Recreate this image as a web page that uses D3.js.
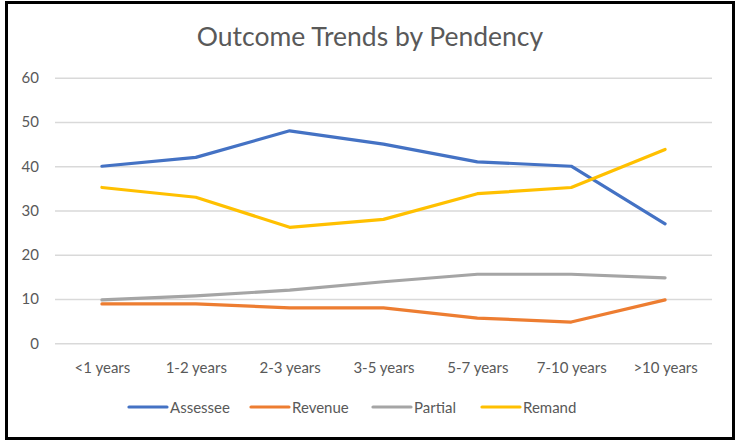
<!DOCTYPE html>
<html><head><meta charset="utf-8">
<script src="https://cdn.jsdelivr.net/npm/d3@7"></script>
<style>body{margin:0;background:#fff}svg{display:block}text{font-family:Lato,"Open Sans",sans-serif}</style>
</head><body>
<svg id="c" width="736" height="441"></svg>
<script>
const categories = ["<1 years","1-2 years","2-3 years","3-5 years","5-7 years","7-10 years",">10 years"];
const assessee = [40, 42, 48, 45, 41, 40, 27];
const revenue  = [8.9, 8.9, 8, 8, 5.7, 4.8, 9.8];
const partial  = [9.8, 10.7, 12, 13.9, 15.6, 15.6, 14.8];
const remand   = [35.2, 33, 26.2, 28, 33.8, 35.2, 43.8];
const seriesNames = ["Assessee","Revenue","Partial","Remand"];
const colors = ["#4472C4","#ED7D31","#A5A5A5","#FFC000"];
const yTicks = [0,10,20,30,40,50,60];

const series = [assessee, revenue, partial, remand];
const svg = d3.select("#c");

svg.append("rect").attr("x",6.5).attr("y",2.5).attr("width",727).attr("height",436)
  .attr("fill","#fff").attr("stroke","#000").attr("stroke-width",3);

svg.append("text").attr("x",370).attr("y",46).attr("text-anchor","middle")
  .attr("font-size",26.5).attr("fill","#595959").text("Outcome Trends by Pendency");

const x = d3.scalePoint().domain(categories).range([55,712]).padding(0.5);
const y = d3.scaleLinear().domain([0,60]).range([343.3,77.7]);

const yAxis = svg.append("g").attr("transform","translate(55,0)")
  .call(d3.axisLeft(y).tickValues(yTicks).tickSize(-657).tickPadding(16));
yAxis.select(".domain").remove();
yAxis.selectAll(".tick line").attr("stroke","#d9d9d9").attr("stroke-width",1.5);
yAxis.selectAll(".tick text").attr("fill","#595959").attr("font-size",15)
  .attr("font-family","Lato,'Open Sans',sans-serif");

const xAxis = svg.append("g").attr("transform","translate(0,343.3)")
  .call(d3.axisBottom(x).tickSize(0).tickPadding(19));
xAxis.select(".domain").remove();
xAxis.selectAll(".tick text").attr("fill","#595959").attr("font-size",15)
  .attr("font-family","Lato,'Open Sans',sans-serif");

const line = d3.line().x((d,i)=>x(categories[i])).y(d=>y(d));
series.forEach((s,k)=>{
  svg.append("path").datum(s).attr("d",line).attr("fill","none")
    .attr("stroke",colors[k]).attr("stroke-width",3.2)
    .attr("stroke-linejoin","round").attr("stroke-linecap","round");
});

const legX = [129, 251, 373, 482];
const lg = svg.append("g");
seriesNames.forEach((n,k)=>{
  lg.append("line").attr("x1",legX[k]).attr("x2",legX[k]+38).attr("y1",407).attr("y2",407)
    .attr("stroke",colors[k]).attr("stroke-width",3.2).attr("stroke-linecap","round");
  lg.append("text").attr("x",legX[k]+41).attr("y",412.5).attr("font-size",15)
    .attr("fill","#595959").text(n);
});
</script>
</body></html>
